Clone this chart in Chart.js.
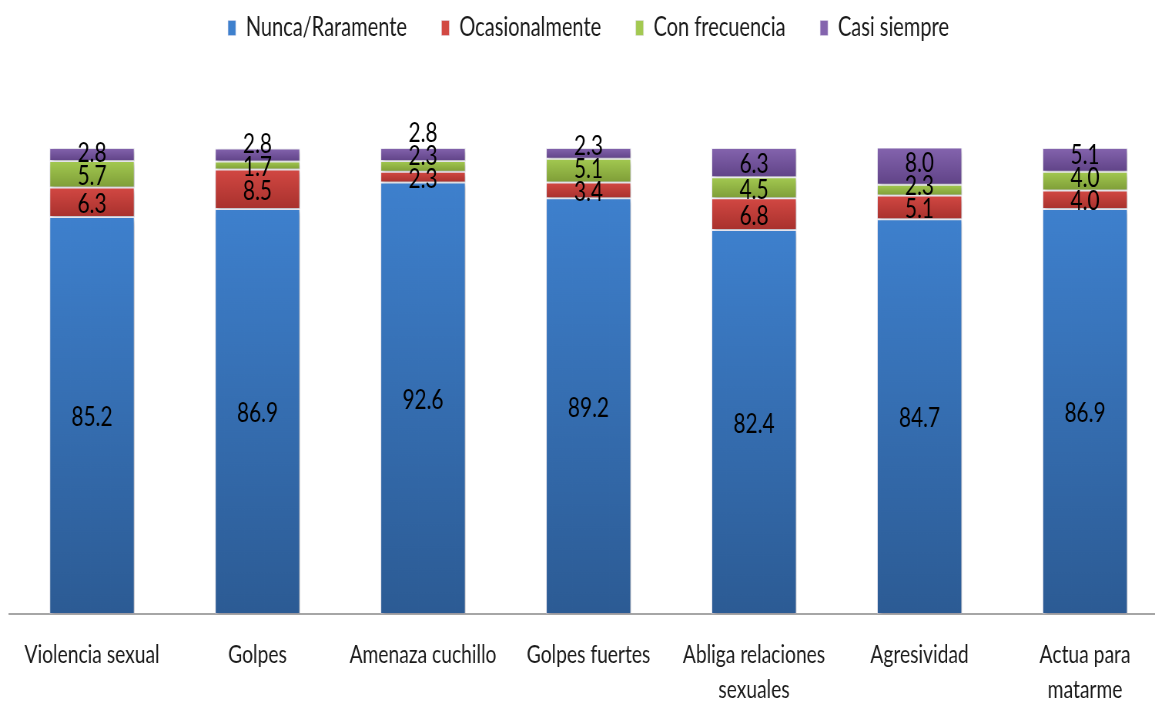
<!DOCTYPE html>
<html>
<head>
<meta charset="utf-8">
<script src="https://cdn.jsdelivr.net/npm/chart.js@4.4.1/dist/chart.umd.min.js"></script>
<style>
  html, body { margin: 0; padding: 0; background: #fff; overflow: hidden; width: 1155px; height: 701px; }
  /* the chart is laid out wide and narrowed horizontally to get condensed lettering */
  #wrap { position: absolute; left: 0; top: 0; width: 1526px; height: 701px; transform: scaleX(0.77); transform-origin: 0 0; }
</style>
</head>
<body>
<div id="wrap"><canvas id="chart"></canvas></div>
<script>
// Categories (x axis)
const categories = [
  'Violencia sexual',
  'Golpes',
  'Amenaza cuchillo',
  'Golpes fuertes',
  ['Abliga relaciones', 'sexuales'],
  'Agresividad',
  ['Actua para', 'matarme']
];

// Series names (legend)
const seriesNames = ['Nunca/Raramente', 'Ocasionalmente', 'Con frecuencia', 'Casi siempre'];

// Percentages per category
const nunca      = [85.2, 86.9, 92.6, 89.2, 82.4, 84.7, 86.9];
const ocasional  = [6.3, 8.5, 2.3, 3.4, 6.8, 5.1, 4.0];
const frecuencia = [5.7, 1.7, 2.3, 5.1, 4.5, 2.3, 4.0];
const siempre    = [2.8, 2.8, 2.8, 2.3, 6.3, 8.0, 5.1];

// Fill colours: lighter top, darker bottom of each segment
const topColors    = ['#3e80cd', '#d24843', '#a3c951', '#8464ae'];
const bottomColors = ['#2c5b94', '#a8312d', '#7e9d37', '#604387'];

function segmentFill(d) {
  return (ctx) => {
    const chart = ctx.chart;
    const area = chart.chartArea;
    if (!area || ctx.type !== 'data') return topColors[d];
    const i = ctx.dataIndex;
    let start = 0;
    for (let k = 0; k < d; k++) start += chart.data.datasets[k].data[i];
    const end = start + chart.data.datasets[d].data[i];
    const y0 = chart.scales.y.getPixelForValue(end);
    const y1 = chart.scales.y.getPixelForValue(start);
    const g = chart.ctx.createLinearGradient(0, y0, 0, y1);
    g.addColorStop(0, topColors[d]);
    g.addColorStop(1, bottomColors[d]);
    return g;
  };
}

const seriesValues = [nunca, ocasional, frecuencia, siempre];

// Legend: keep the label row near the top and leave room above the bars
const legendRoom = {
  id: 'legendRoom',
  beforeInit(chart) {
    const legend = chart.legend;
    if (!legend) return;
    const fit = legend.fit;
    legend.fit = function () {
      fit.call(this);
      this.height = 178;
    };
  }
};

// Soft shadow under the bars
const barShadow = {
  id: 'barShadow',
  beforeDatasetsDraw(chart) {
    const c = chart.ctx;
    c.save();
    c.shadowColor = 'rgba(0,0,0,0.28)';
    c.shadowBlur = 5;
    c.shadowOffsetX = 2;
    c.shadowOffsetY = 2;
  },
  afterDatasetsDraw(chart) {
    chart.ctx.restore();
  }
};

// Value labels centred in each segment, nudged apart when segments are thin
const segmentLabels = {
  id: 'segmentLabels',
  afterDatasetsDraw(chart) {
    const c = chart.ctx;
    c.save();
    c.font = '27px Lato';
    c.fillStyle = '#000';
    c.textAlign = 'center';
    c.textBaseline = 'middle';
    const gap = 23;
    const n = chart.data.labels.length;
    for (let i = 0; i < n; i++) {
      let prev = Infinity;
      chart.data.datasets.forEach((ds, d) => {
        const el = chart.getDatasetMeta(d).data[i];
        let y = (el.y + el.base) / 2 + 2;
        y = Math.min(y, prev - gap);
        prev = y;
        c.fillText(ds.data[i].toFixed(1), el.x, y);
      });
    }
    c.restore();
  }
};

function draw() {
  new Chart(document.getElementById('chart'), {
    type: 'bar',
    data: {
      labels: categories,
      datasets: seriesValues.map((vals, d) => ({
        label: seriesNames[d],
        data: vals,
        backgroundColor: segmentFill(d),
        borderColor: 'rgba(225,220,240,0.45)',
        borderWidth: 1,
        borderSkipped: false,
        barPercentage: 0.514,
        categoryPercentage: 1.0
      }))
    },
    options: {
      responsive: true,
      maintainAspectRatio: false,
      animation: false,
      events: [],
      layout: { padding: { top: -30, left: 12, right: 9.4, bottom: 0 } },
      plugins: {
        legend: {
          position: 'top',
          labels: {
            font: { family: 'Lato', size: 26 },
            color: '#1a1a1a',
            boxWidth: 10,
            boxHeight: 15,
            padding: 45
          }
        },
        tooltip: { enabled: false }
      },
      scales: {
        x: {
          stacked: true,
          offset: true,
          grid: { display: false, drawTicks: false },
          border: { display: true, color: '#a6a6a6', width: 2 },
          ticks: {
            font: { family: 'Lato', size: 25, lineHeight: 1.4 },
            color: '#1a1a1a',
            padding: 23.5,
            maxRotation: 0,
            autoSkip: false
          },
          afterFit(scale) { scale.height = 87; }
        },
        y: {
          stacked: true,
          display: false,
          min: 0,
          max: 100
        }
      }
    },
    plugins: [legendRoom, barShadow, segmentLabels]
  });
}

document.fonts.load('25px Lato').then(draw, draw);
</script>
</body>
</html>
